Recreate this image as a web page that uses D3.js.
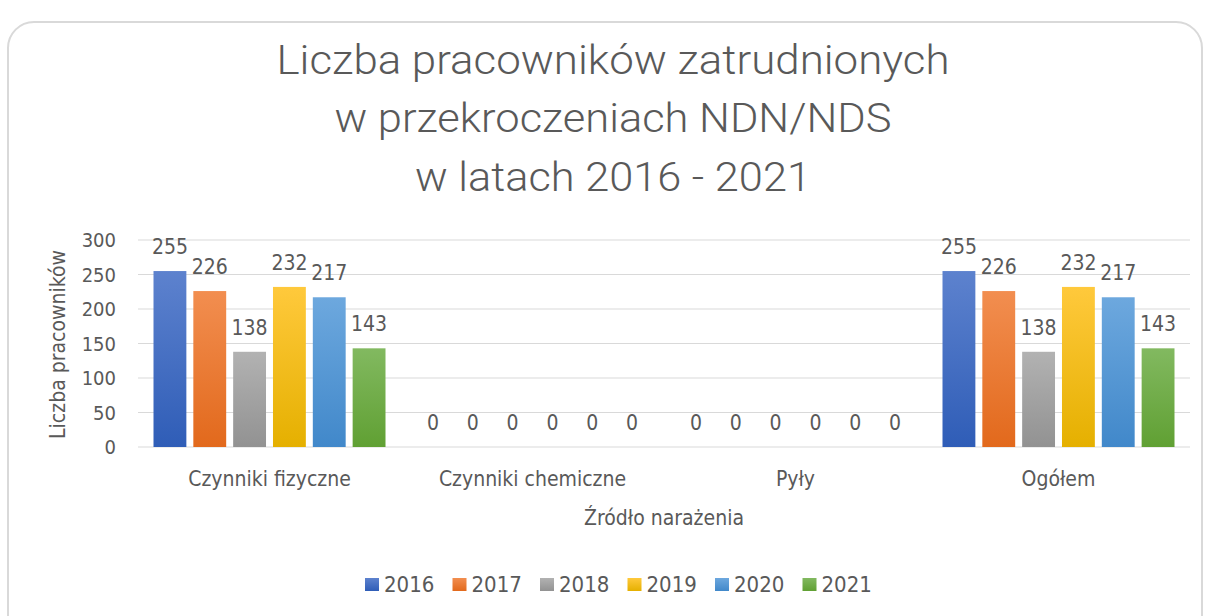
<!DOCTYPE html>
<html>
<head>
<meta charset="utf-8">
<script src="https://cdn.jsdelivr.net/npm/d3@7"></script>
<style>
  body { margin: 0; background: #fff; }
  text { font-family: "Liberation Sans Narrow", "DejaVu Sans Condensed", "Open Sans", sans-serif; fill: #595959; }
  .title { font-family: Roboto, "Open Sans", sans-serif; font-weight: 300; }
</style>
</head>
<body>
<svg id="chart" width="1206" height="616"></svg>
<script>
// chart data
const categories = ["Czynniki fizyczne", "Czynniki chemiczne", "Pyły", "Ogółem"];
const years = ["2016", "2017", "2018", "2019", "2020", "2021"];
const values2016 = [255, 0, 0, 255];
const values2017 = [226, 0, 0, 226];
const values2018 = [138, 0, 0, 138];
const values2019 = [232, 0, 0, 232];
const values2020 = [217, 0, 0, 217];
const values2021 = [143, 0, 0, 143];
const yTicks = [0, 50, 100, 150, 200, 250, 300];
const titleLines = ["Liczba pracowników zatrudnionych", "w przekroczeniach NDN/NDS", "w latach 2016 - 2021"];

const seriesValues = [values2016, values2017, values2018, values2019, values2020, values2021];
// top / bottom gradient colours per year
const colors = [
    ["#5d82ce", "#2f5db7"],
    ["#f28e50", "#e2691c"],
    ["#b2b2b2", "#929292"],
    ["#ffc93c", "#e5b000"],
    ["#6da8de", "#4188ca"],
    ["#82b960", "#60a033"]
];

const svg = d3.select("#chart");

// card background
svg.append("rect")
    .attr("x", 8).attr("y", 22)
    .attr("width", 1194).attr("height", 700)
    .attr("rx", 26)
    .attr("fill", "#fff")
    .attr("stroke", "#d9d9d9")
    .attr("stroke-width", 2);

const defs = svg.append("defs");
colors.forEach(function(c, i) {
    const g = defs.append("linearGradient")
        .attr("id", "grad" + i)
        .attr("x1", 0).attr("y1", 0).attr("x2", 0).attr("y2", 1);
    g.append("stop").attr("offset", "0%").attr("stop-color", c[0]);
    g.append("stop").attr("offset", "100%").attr("stop-color", c[1]);
});

// Title (widths matched to the original)
const titleWidths = [673, 557, 396];
const titleBase = [74, 132, 191];
svg.append("g").selectAll("text")
    .data(titleLines)
    .enter()
    .append("text")
        .attr("class", "title")
        .attr("x", 613)
        .attr("y", function(d, i) { return titleBase[i]; })
        .attr("text-anchor", "middle")
        .attr("textLength", function(d, i) { return titleWidths[i]; })
        .attr("lengthAdjust", "spacingAndGlyphs")
        .style("font-size", "41px")
        .text(function(d) { return d; });

const plotLeft = 138, plotRight = 1190, plotTop = 240, plotBottom = 447;

const x0 = d3.scaleBand().domain(categories).range([plotLeft, plotRight]);
const x1 = d3.scaleBand().domain(years).range([0, 232]).paddingInner(0.175).paddingOuter(0);
const y = d3.scaleLinear().domain([0, 300]).range([plotBottom, plotTop]);

// gridlines
svg.append("g")
    .selectAll("line")
    .data(yTicks)
    .enter()
    .append("line")
        .attr("x1", plotLeft).attr("x2", plotRight)
        .attr("y1", function(d) { return y(d); })
        .attr("y2", function(d) { return y(d); })
        .attr("stroke", "#d9d9d9")
        .attr("stroke-width", 1);

// y-axis tick labels
svg.append("g")
    .selectAll("text")
    .data(yTicks)
    .enter()
    .append("text")
        .attr("x", 116)
        .attr("y", function(d) { return y(d) + 7; })
        .attr("text-anchor", "end")
        .style("font-size", "20px")
        .text(function(d) { return d; });

// Y label
svg.append("text")
    .attr("text-anchor", "middle")
    .attr("transform", `translate(65, ${(plotTop + plotBottom) / 2 + 1})rotate(-90)`)
    .style("font-size", "21px")
    .text("Liczba pracowników");

// bars
const groups = svg.append("g")
    .selectAll("g")
    .data(categories)
    .enter()
    .append("g")
        .attr("transform", function(d) { return `translate(${x0(d) + (x0.bandwidth() - 232) / 2}, 0)`; });

function rows(d, ci) {
    return years.map(function(yr, si) { return { year: yr, si: si, v: seriesValues[si][ci] }; });
}

groups.selectAll("rect")
    .data(rows)
    .enter()
    .append("rect")
        .attr("x", function(d) { return x1(d.year); })
        .attr("y", function(d) { return y(d.v); })
        .attr("width", x1.bandwidth())
        .attr("height", function(d) { return plotBottom - y(d.v); })
        .attr("fill", function(d) { return "url(#grad" + d.si + ")"; });

// data labels
groups.selectAll("text")
    .data(rows)
    .enter()
    .append("text")
        .attr("x", function(d) { return x1(d.year) + x1.bandwidth() / 2; })
        .attr("y", function(d) { return y(d.v) - 17; })
        .attr("text-anchor", "middle")
        .style("font-size", "21px")
        .text(function(d) { return d.v; });

// category labels
svg.append("g")
    .selectAll("text")
    .data(categories)
    .enter()
    .append("text")
        .attr("x", function(d) { return x0(d) + x0.bandwidth() / 2; })
        .attr("y", 486)
        .attr("text-anchor", "middle")
        .style("font-size", "21px")
        .text(function(d) { return d; });

// X label
svg.append("text")
    .attr("x", (plotLeft + plotRight) / 2)
    .attr("y", 525)
    .attr("text-anchor", "middle")
    .style("font-size", "21px")
    .text("Źródło narażenia");

// legend
const legend = svg.append("g")
    .selectAll("g")
    .data(years)
    .enter()
    .append("g")
        .attr("transform", function(d, i) { return `translate(${365 + i * 87.5}, 578)`; });
legend.append("rect")
    .attr("width", 14).attr("height", 13)
    .attr("fill", function(d, i) { return "url(#grad" + i + ")"; });
legend.append("text")
    .attr("x", 19).attr("y", 14)
    .style("font-size", "22px")
    .text(function(d) { return d; });
</script>
</body>
</html>
